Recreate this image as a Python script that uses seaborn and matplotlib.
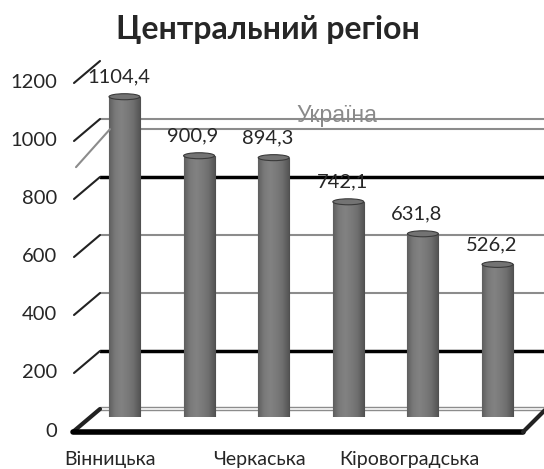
import numpy as np
import matplotlib
matplotlib.use("Agg")
import matplotlib.pyplot as plt
import seaborn as sns
from matplotlib.colors import LinearSegmentedColormap
from matplotlib.patches import Ellipse
from matplotlib.lines import Line2D
from matplotlib.transforms import ScaledTranslation

# data
regions = ["Вінницька", "Полтавська", "Черкаська", "Київська", "Кіровоградська", "Житомирська"]
values = [1104.4, 900.9, 894.3, 742.1, 631.8, 526.2]
shown_labels = ["Вінницька", "Черкаська", "Кіровоградська"]
ukraine_value = 965
ukraine_label = "Україна"
y_ticks = [0, 200, 400, 600, 800, 1000, 1200]
title = "Центральний регіон"

W, H, DPI = 544, 469, 100

sns.set_style("white")
plt.rcParams["font.family"] = ["Lato", "DejaVu Sans"]


def pt(px):
    # pixels -> points for offsets
    return px * 72 / DPI


fig = plt.figure(figsize=(W / DPI, H / DPI), dpi=DPI)
ax = fig.add_axes([100 / W, 52 / H, 444 / W, 348 / H])
px_per_unit = 348 / 1200

# back wall sits a little higher than the bars (fake 3D depth)
back = ScaledTranslation(0, 8 / DPI, fig.dpi_scale_trans)
ytrans = ax.get_yaxis_transform()

# gridlines on the back wall
for v in y_ticks:
    if v == 0:
        continue
    if v in (200, 800):
        color, lw = "black", 2.5
    elif v == 1200:
        color, lw = "#222222", 1.0
    else:
        color, lw = "#8c8c8c", 1.5
    line = ax.axhline(v, color=color, lw=lw, zorder=0.5)
    line.set_transform(line.get_transform() + back)

# floor back edge (double thin line)
for dy in (7, 10):
    line = ax.axhline(0, color="#8c8c8c", lw=1, zorder=0.5)
    line.set_transform(line.get_transform() + ScaledTranslation(0, dy / DPI, fig.dpi_scale_trans))

# little diagonal stubs from the side wall
for v in y_ticks:
    ax.annotate("", xy=(0, v), xycoords=ytrans + back,
                xytext=(pt(-26), pt(-22)), textcoords="offset points",
                arrowprops=dict(arrowstyle="-", color="#222222",
                                lw=3 if v == 0 else 1.5, shrinkA=0, shrinkB=0),
                annotation_clip=False)

# Ukraine average line
start = 10 / 444
uline = ax.axhline(ukraine_value, xmin=start, color="#8c8c8c", lw=1.5, zorder=0.6)
uline.set_transform(uline.get_transform() + back)
ax.annotate("", xy=(start, ukraine_value), xycoords=ytrans + back,
            xytext=(pt(-34), pt(-38)), textcoords="offset points",
            arrowprops=dict(arrowstyle="-", color="#8c8c8c", lw=1.5, shrinkA=0, shrinkB=0),
            annotation_clip=False)

# bars
sns.barplot(x=regions, y=values, order=regions, color="#777777", width=0.415,
            edgecolor="#505050", linewidth=0.8, ax=ax, zorder=1)

# cylinder shading
cyl = LinearSegmentedColormap.from_list(
    "cyl", ["#5e5e5e", "#7a7a7a", "#828282", "#7a7a7a", "#6e6e6e", "#545454"])
grad = np.linspace(0, 1, 256).reshape(1, -1)
for p in list(ax.patches):
    x0, w, h = p.get_x(), p.get_width(), p.get_height()
    im = ax.imshow(grad, extent=[x0, x0 + w, 0, h], aspect="auto", cmap=cyl,
                   interpolation="bicubic", zorder=1.1)
    im.set_clip_path(p)
    ax.add_patch(Ellipse((x0 + w / 2, h), w, 6 / px_per_unit, facecolor="#737373",
                         edgecolor="#3a3a3a", lw=0.8, zorder=1.2))

ax.set_xlim(-0.328, 5.623)
ax.set_ylim(0, 1200)
ax.set_aspect("auto")
ax.axis("off")

ax.text(2.84, ukraine_value, ukraine_label, ha="center", va="center",
        fontsize=16.5, color="#8a8a8a", family=["Liberation Sans", "DejaVu Sans"],
        transform=ax.transData + ScaledTranslation(0, 22 / DPI, fig.dpi_scale_trans),
        zorder=3)

# value labels
for i, v in enumerate(values):
    ax.annotate(f"{v:.1f}".replace(".", ","), xy=(i, v),
                xytext=(pt(-6), pt(20)), textcoords="offset points",
                ha="center", va="center", fontsize=14.5, zorder=4)

# y tick labels on the front plane
for v in y_ticks:
    ax.annotate(str(v), xy=(0, v), xycoords=ytrans,
                xytext=(pt(-43), pt(-14)), textcoords="offset points",
                ha="right", va="center", fontsize=14.5, annotation_clip=False)

# category labels (every other one, as in the original)
xtrans = ax.get_xaxis_transform()
for i, name in enumerate(regions):
    if name in shown_labels:
        ax.annotate(name, xy=(i, 0), xycoords=xtrans,
                    xytext=(pt(-14), pt(-42)), textcoords="offset points",
                    ha="center", va="center", fontsize=14, annotation_clip=False)

# floor front edge and right side
fig.add_artist(Line2D([73 / W, 523 / W], [1 - 432 / H] * 2, color="black", lw=4,
                      transform=fig.transFigure))
fig.add_artist(Line2D([523 / W, 546 / W], [1 - 432 / H, 1 - 409 / H], color="#222222", lw=3,
                      transform=fig.transFigure))

fig.text(267.5 / W, 1 - 39 / H, title, ha="center", va="baseline",
         fontsize=23, fontweight="bold")

fig.savefig("out.png", dpi=DPI)
